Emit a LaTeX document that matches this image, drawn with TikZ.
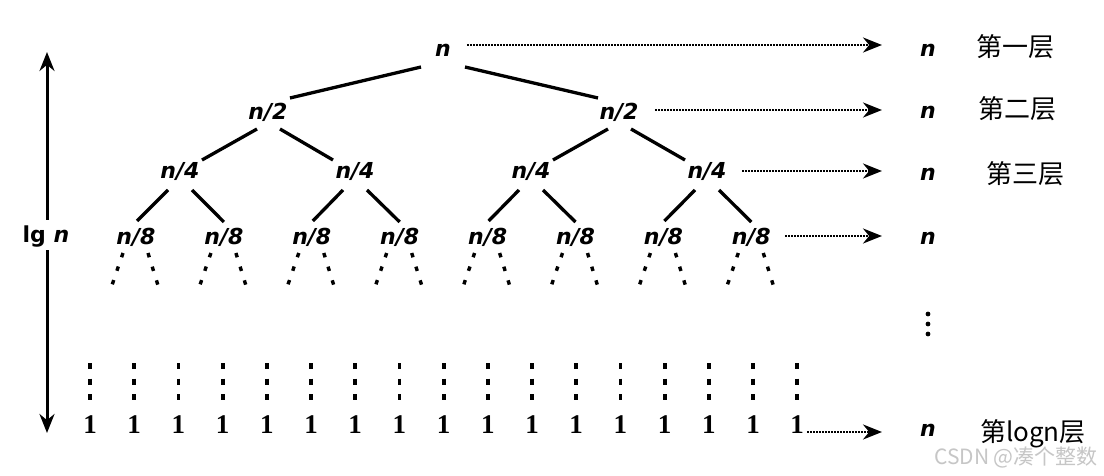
\documentclass[tikz,border=0pt]{standalone}
\usepackage{fontspec}
\usetikzlibrary{arrows.meta}
\newfontfamily\nf{DejaVu Sans}[ItalicFont=* Oblique, BoldFont=* Bold, BoldItalicFont=* Bold Oblique]
\newfontfamily\cjk{Noto Sans CJK SC}
\newfontfamily\onef{Liberation Serif}
\begin{document}
\begin{tikzpicture}[x=1pt,y=-1pt,
  lab/.style={font=\nf\bfseries\itshape\fontsize{22}{22}\selectfont, inner sep=0pt},
  onelab/.style={font=\onef\bfseries\fontsize{27}{27}\selectfont, inner sep=0pt},
  cjkl/.style={font=\cjk\fontsize{26}{26}\selectfont, inner sep=0pt},
  edge/.style={line width=3.3pt},
  dots3/.style={line width=3.4pt, dash pattern=on 4.5pt off 9.8pt},
  vdots/.style={line width=3.8pt, dash pattern=on 6pt off 9.5pt},
  flow/.style={line width=2.4pt, dash pattern=on 1.8pt off 1.2pt, -{Stealth[length=19pt,width=15pt]}},
  big/.style={line width=3pt, -{Stealth[length=19pt,width=15pt]}}]
\useasboundingbox (0,0) rectangle (1104,476);
\fill[white] (0,0) rectangle (1104,476);
% tree nodes
\node[lab] (root) at (443,50) {n};
\node[lab] (a1) at (268,112) {n/2};
\node[lab] (a2) at (619,112) {n/2};
\node[lab] (b1) at (180,172) {n/4};
\node[lab] (b2) at (355,172) {n/4};
\node[lab] (b3) at (531,172) {n/4};
\node[lab] (b4) at (707,172) {n/4};
\foreach \i in {1,...,8}{
  \node[lab] (c\i) at ({136+87.9*(\i-1)},237) {n/8};
  \draw[dots3] ([shift={(-13,16)}]c\i.center) -- ++(-11.3,33);
  \draw[dots3] ([shift={(12,16)}]c\i.center) -- ++(10.2,33);
}
% tree edges
\draw[edge] ([shift={(-22,17)}]root.center) -- ([shift={(22,-14)}]a1.center);
\draw[edge] ([shift={(22,17)}]root.center) -- ([shift={(-21,-14)}]a2.center);
\foreach \p/\l/\r in {a1/b1/b2, a2/b3/b4}{
  \draw[edge] ([shift={(-11,17)}]\p.center) -- ([shift={(22,-12)}]\l.center);
  \draw[edge] ([shift={(12,17)}]\p.center) -- ([shift={(-22,-12)}]\r.center);
}
\foreach \p/\l/\r in {b1/c1/c2, b2/c3/c4, b3/c5/c6, b4/c7/c8}{
  \draw[edge] ([shift={(-12,18)}]\p.center) -- ([shift={(1,-16)}]\l.center);
  \draw[edge] ([shift={(12,18)}]\p.center) -- ([shift={(0,-15)}]\r.center);
}
% leaves
\foreach \i in {0,...,16}{
  \node[onelab] (o\i) at ({90+44.2*\i},425) {1};
  \draw[vdots] ({90+44.2*\i},363) -- ({90+44.2*\i},401);
}
% right column
\node[lab] (r1) at (928,50) {n};
\node[lab] (r2) at (928,112) {n};
\node[lab] (r3) at (928,174) {n};
\node[lab] (r4) at (928,238) {n};
\node[lab] (r5) at (928,430) {n};
\foreach \y in {314,324,334} \fill (928,\y) circle (2.4);
% flow arrows
\draw[flow] ([shift={(24,-5)}]root.center) -- ([shift={(-46,-5)}]r1.center);
\draw[flow] ([shift={(36,-2)}]a2.center) -- ([shift={(-46,-2)}]r2.center);
\draw[flow] ([shift={(35,-1)}]b4.center) -- ([shift={(-46,-3)}]r3.center);
\draw[flow] ([shift={(34,-1)}]c8.center) -- ([shift={(-46,-2)}]r4.center);
\draw[flow] ([shift={(10,7)}]o16.center) -- ([shift={(-46,2)}]r5.center);
% level labels
\node[cjkl] (t1) at (1015,47) {第一层};
\node[cjkl] (t2) at (1017,109) {第二层};
\node[cjkl] (t3) at (1025,174) {第三层};
\node[cjkl] (t4) at (1033,434) {第logn层};
% left height arrow
\node[font=\nf\bfseries\fontsize{22}{22}\selectfont, inner sep=0pt] (lg) at (46,237) {lg~\itshape n};
\coordinate (top) at (47,52);
\coordinate (bot) at (47,433);
\draw[big] ([shift={(1,-17)}]lg.center) -- (top);
\draw[big] ([shift={(1,13)}]lg.center) -- (bot);
% watermark
\node[font=\cjk\fontsize{21}{21}\selectfont, text=gray!45, inner sep=0pt] (wm) at (1016,457) {CSDN @凑个整数};
\end{tikzpicture}
\end{document}
